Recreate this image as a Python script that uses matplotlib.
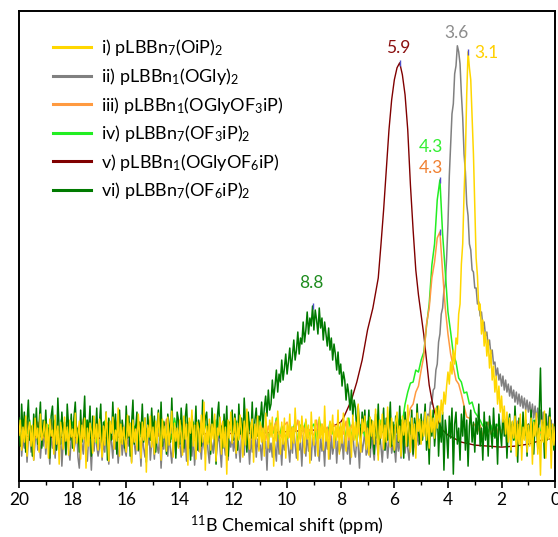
import numpy as np
import matplotlib
matplotlib.use("Agg")
import matplotlib.pyplot as plt
from matplotlib.lines import Line2D

plt.rcParams['font.family'] = ['Lato', 'DejaVu Sans']
plt.rcParams['mathtext.fontset'] = 'custom'
plt.rcParams['mathtext.rm'] = 'Lato'
plt.rcParams['mathtext.it'] = 'Lato:italic'

# intensities (arbitrary units), 20 -> 0 ppm
# i), ii), vi): step 0.05 ppm, one row = 1 ppm
int_i = [
    -5, 10, -20, 3, -12, 14, -26, 0, 8, -16, 5, -30, 12, -8, 2, -22, 16, -10, -3, 9,
    -18, 6, -28, 11, -6, 0, -24, 15, -14, 4, -34, 8, -2, -19, 13, -11, 3, -25, 10, -7,
    1, -21, 17, -13, -4, 9, -29, 5, -9, 12, -38, 2, -16, 7, -1, -23, 14, -12, 6, -20,
    11, -8, -27, 4, -15, 18, -5, -31, 9, -3, 13, -19, 0, -11, 22, -26, 6, -14, 3, -9,
    -22, 15, -6, 7, -33, 10, -12, 1, -20, 16, -4, -28, 8, -10, 12, -42, 5, -7, 14, -17,
    3, -24, 9, -13, 17, -2, -30, 11, -8, 4, -21, 13, -15, 0, 19, -27, 7, -11, 2, -18,
    10, -6, -25, 14, -9, 6, -35, 12, -3, 20, -16, 5, -29, 8, 1, -22, 15, -12, 28, -40,
    4, -14, 11, -20, 6, -9, 16, -31, 2, -5, 13, -24, 9, -17, 3, -44, 10, -8, 18, -13,
    -3, 12, -23, 7, -10, 15, -1, -27, 9, -15, 21, -6, -19, 4, 11, -32, 6, -9, 14, -21,
    8, -12, 2, -26, 17, -4, -18, 10, -7, 13, -36, 5, -11, 19, -2, -24, 8, -14, 12, -28,
    6, -8, 16, -19, 3, -13, 22, -5, -30, 9, -12, 14, -3, -23, 11, -9, 5, -33, 18, -6,
    -15, 10, -2, -26, 13, -8, 6, -20, 24, -11, 1, -29, 9, -4, 15, -18, 4, -10, 20, -24,
    7, -13, 17, -3, -21, 12, -7, 3, -27, 15, -10, 8, -16, 26, -5, -22, 11, -1, 14, -19,
    2, -25, 13, -6, 9, -14, 21, -2, -30, 10, -8, 16, -19, 5, -12, 23, -4, -17, 12, -9,
    -20, 8, 18, -11, 4, -26, 14, -5, 10, -16, 25, -3, -22, 12, -9, 6, -28, 17, -1, 11,
    -14, 9, -6, 18, -10, 14, -18, 20, -2, 12, -8, 22, 2, 24, 8, 30, 16, 38, 26, 44,
    58, 46, 68, 56, 80, 66, 92, 86, 116, 126, 166, 186, 236, 274, 336, 378, 362, 350, 314, 276,
    224, 172, 154, 120, 126, 96, 110, 84, 98, 74, 90, 62, 80, 50, 64, 38, 54, 26, 44, 18,
    34, 8, 24, -4, 18, -12, 12, -20, 9, -8, 14, -26, 6, -14, 16, -30, 3, -10, 20, -22,
    5, -16, 12, -34, 8, -6, 17, -24, 2, -45, 10, -12, 19, -28, 4, -9, 13, -38, 6, -15,
    3]

int_ii = [
    -14, 0, -26, -8, -18, 4, -32, -10, -2, -22, -6, -30, -12, 2, -20, -4, -28, -9, -16, 0,
    -24, -6, -13, -34, -2, -18, -10, -28, 1, -15, -22, -4, -36, -11, -7, -25, -1, -19, -30, -8,
    -5, -20, -12, 3, -27, -38, -9, -14, -24, -2, -17, -31, -6, -13, -40, -8, -21, 0, -16, -26,
    -18, -3, -30, -11, -22, 4, -15, -34, -7, -12, -28, -1, -19, -9, -33, -14, -4, -25, -10, -20,
    -26, -5, -16, -8, -32, 1, -13, -24, -6, -21, -11, -36, -3, -18, -27, -9, -15, -2, -30, -12,
    -10, -29, -2, -16, -23, -6, -38, -11, -19, 3, -14, -26, -5, -20, -33, -8, -12, -24, -1, -17,
    -13, -27, -4, -22, -8, -31, 0, -18, -12, -26, -6, -35, -15, -3, -21, -10, -29, -7, -16, -24,
    -2, -20, -33, -9, -15, -23, 1, -28, -12, -5, -19, -37, -8, -14, -25, -4, -30, -11, -17, -6,
    -21, -8, -28, -3, -16, -32, -6, -13, -25, -1, -18, -10, -34, -7, -22, -14, -2, -27, -9, -19,
    -15, -30, -5, -19, -11, -40, -4, -22, -13, -27, -8, -17, -31, -2, -24, -12, -35, -6, -20, -10,
    -4, -18, -32, -8, -23, 0, -14, -28, -9, -20, -12, -36, -5, -17, -26, -3, -21, -11, -30, -7,
    -12, -26, -2, -17, -31, -7, -21, -13, -36, -4, -19, -10, -29, -6, -24, -15, -1, -33, -11, -22,
    -18, -8, -29, -3, -16, -24, -6, -34, -12, -2, -20, -27, -9, -15, -38, -5, -22, -13, -1, -25,
    -21, -9, -27, -4, -18, -30, -7, -14, -25, -2, -16, -32, -10, -20, -6, -28, -12, -3, -23, -15,
    -16, -32, -5, -21, -10, -28, -1, -14, -23, -7, -18, -30, -4, -12, -26, -8, -19, -2, -15, -9,
    -8, 2, -4, 8, 4, 16, 14, 28, 26, 40, 42, 60, 66, 88, 96, 116, 122, 140, 146, 172,
    206, 254, 286, 316, 326, 356, 364, 384, 378, 366, 336, 312, 276, 258, 226, 214, 186, 180, 160, 158,
    142, 142, 126, 128, 114, 118, 104, 108, 94, 98, 84, 90, 76, 80, 66, 68, 54, 62, 50, 56,
    44, 54, 40, 50, 38, 46, 34, 44, 32, 40, 28, 38, 26, 36, 24, 34, 22, 32, 20, 30,
    18, 28, 14, 26, 12, 24, 8, 22, 6, 20, 2, 18, 0, 16, -4, 14, -6, 10, -10, 6,
    -2]

int_vi = [
    12, -16, 26, -4, 18, -22, 8, 30, -10, 4, -26, 16, -2, 22, -14, 6, 28, -18, 10, -6,
    20, -12, 2, -28, 14, 24, -8, 10, -20, 32, 0, -14, 18, -4, 8, -24, 26, 4, -10, 16,
    -18, 12, 28, -6, 2, -22, 20, -12, 6, 34, -16, 10, -2, 24, -26, 14, 0, -8, 22, -14,
    6, 26, -20, 8, -4, 18, -30, 12, 2, -10, 28, -6, 16, -24, 4, 20, -12, 10, -2, -18,
    24, -8, 14, -26, 6, 30, -14, 2, 18, -20, 8, -4, 26, -12, 12, -32, 16, 0, -10, 22,
    -6, 14, -22, 4, 20, -10, 28, -16, 8, -2, -24, 16, 6, -12, 32, -8, 2, -28, 18, 10,
    -14, 22, 0, -18, 12, 26, -6, 8, -30, 14, 4, -10, 24, -20, 10, 2, -16, 30, -4, 12,
    18, -12, 6, -24, 22, -2, 10, -34, 14, 28, -8, 4, -18, 16, -6, 24, -26, 8, 0, 20,
    -10, 16, 4, -20, 26, -4, 12, -14, 32, 6, -22, 18, 2, -8, 28, -16, 10, 22, -6, 14,
    10, 28, 2, 22, 34, 14, 40, 20, 26, 50, 32, 44, 60, 38, 56, 48, 70, 50, 62, 76,
    56, 68, 82, 60, 74, 90, 70, 80, 98, 76, 92, 86, 108, 88, 100, 118, 96, 112, 104, 124,
    100, 120, 110, 96, 122, 102, 112, 90, 108, 96, 84, 102, 80, 92, 70, 86, 76, 60, 78, 56,
    66, 44, 58, 50, 30, 46, 36, 20, 40, 14, 30, 22, -2, 24, 6, -10, 18, 2, 20, -14,
    -6, 20, -18, 10, 2, -24, 16, -8, 26, -14, 6, -2, 22, -20, 12, -10, 4, 28, -16, 8,
    -22, 14, 0, -12, 24, -6, 10, -28, 18, 2, -16, 8, -4, 20, -24, 12, -8, 26, -2, -14,
    16, -10, 6, 26, -20, 4, -34, 14, -6, 20, -16, 2, 24, -26, 8, -12, 18, -40, 10, -4,
    -28, 14, -8, 22, -44, 6, 18, -14, 2, -30, 16, -6, 24, -20, 10, -36, 4, 20, -12, 8,
    -22, 12, -4, 26, -16, 2, -30, 18, -10, 8, -26, 14, 0, -18, 22, -8, 6, -34, 16, -2,
    -16, 20, -6, 10, -28, 4, 16, -22, 8, -10, 24, -4, -32, 12, 2, -18, 18, -6, 10, -26,
    6, -12, 20, -4, -24, 10, 2, -18, 14, 62, -6, 8, -28, 16, -10, 4, 22, -14, 0, -20,
    6]

# iii), iv): step 0.1 ppm, one row = 1 ppm
int_iii = [
    -6, 4, -2, 9, -10, 3, -5, 8, 0, -8,
    6, -4, 10, -9, 2, -3, 7, -11, 5, 1,
    -7, 9, -1, -6, 11, -8, 3, 0, -4, 8,
    2, -10, 5, 7, -3, -9, 10, -2, 6, -6,
    9, -5, 1, -12, 4, 8, -7, 3, -1, 10,
    -8, 2, -6, 6, -2, 11, -9, 5, -4, 0,
    4, -11, 8, -3, 7, -5, 1, -8, 10, -2,
    -9, 6, -4, 3, -7, 9, -1, 4, -10, 7,
    5, -3, 11, -8, 0, -6, 6, -9, 2, 8,
    -2, 7, -10, 4, -5, 2, 9, -4, -7, 5,
    8, -7, 3, -1, 10, -9, 4, -6, 1, -3,
    -5, 10, -8, 6, -2, 3, -11, 7, 4, -7,
    3, -4, 9, -10, 5, -1, 8, -5, -3, 11,
    -6, 1, -9, 7, 2, -8, 6, -2, 9, -4,
    4, -3, 6, 2, 12, 8, 22, 26, 38, 44,
    60, 74, 106, 122, 152, 168, 192, 198, 158, 122,
    96, 76, 63, 50, 46, 36, 24, 13, 12, 4,
    6, -2, 5, -6, 3, 8, -4, 2, -7, 4,
    -3, 7, -9, 1, 5, -5, 9, -2, -8, 3,
    6, -6, 2, 8, -4, -1, 7, -9, 4, 0,
    -3]

int_iv = [
    3, -8, 6, -4, 10, -12, 2, 7, -6, 4,
    -10, 5, -3, 9, -7, 1, 12, -9, 3, -5,
    8, -2, -11, 6, -4, 10, -8, 2, 5, -13,
    4, -6, 9, -1, -9, 7, -3, 11, -7, 0,
    -5, 8, -12, 3, 6, -8, 10, -4, 1, -10,
    7, -3, 5, -11, 9, -6, 2, -9, 12, -2,
    -7, 4, 10, -5, -1, 8, -10, 3, -6, 9,
    1, -12, 6, -3, 11, -7, 4, -2, -8, 7,
    -4, 9, -9, 5, 2, -11, 8, -5, 3, -1,
    10, -6, 1, -10, 7, -3, 12, -8, 4, -4,
    -9, 6, -2, 8, -12, 5, -1, 9, -7, 3,
    6, -10, 11, -4, 2, -7, 8, -3, -9, 5,
    -2, 7, -8, 12, -5, 1, -11, 6, 3, -6,
    9, -1, -7, 4, -10, 10, -4, 2, 8, -3,
    5, 2, 12, 8, 26, 38, 47, 48, 60, 58,
    70, 78, 104, 126, 165, 186, 230, 250, 196, 158,
    118, 98, 76, 68, 52, 48, 37, 38, 26, 28,
    18, 14, 10, 4, 8, -2, 5, -6, 3, 7,
    -4, 9, -8, 2, 6, -10, 4, -3, 8, -5,
    3, -7, 10, -2, -9, 5, 1, -6, 7, -1,
    2]

# v) is a smooth trace, sampled on its own points
ppm_v = [20.0, 17.0, 14.0, 11.0, 9.0, 8.4, 8.2, 8.0, 7.9, 7.8, 7.6, 7.4, 7.2,
         7.0, 6.8, 6.6, 6.5, 6.4, 6.3, 6.2, 6.1, 6.0, 5.9, 5.8, 5.7, 5.6,
         5.5, 5.4, 5.3, 5.2, 5.1, 5.0, 4.9, 4.8, 4.7, 4.6, 4.5, 4.4, 4.2,
         4.0, 3.5, 3.0, 2.0, 1.5, 1.0, 0.5, 0.0]
int_v = [-6, -8, -4, -3, 0, 2, 5, 8, 12, 18, 30, 48, 70,
         100, 122, 152, 185, 220, 260, 300, 330, 350, 362, 367, 355, 335,
         300, 245, 200, 160, 135, 115, 95, 70, 45, 30, 18, 10, 0,
         -5, -12, -15, -17, -16, -14, -10, -8]

assert len(int_i) == len(int_ii) == len(int_vi) == 401
assert len(int_iii) == len(int_iv) == 201
assert len(ppm_v) == len(int_v)

ppm_fine = np.linspace(20, 0, 401)
ppm_coarse = np.linspace(20, 0, 201)

labels = [r'i) pLBBn$_7$(OiP)$_2$',
          r'ii) pLBBn$_1$(OGly)$_2$',
          r'iii) pLBBn$_1$(OGlyOF$_3$iP)',
          r'iv) pLBBn$_7$(OF$_3$iP)$_2$',
          r'v) pLBBn$_1$(OGlyOF$_6$iP)',
          r'vi) pLBBn$_7$(OF$_6$iP)$_2$']
colors = ['#FFD700', '#808080', '#FF9A40', '#22EE22', '#800000', '#007A00']

# peak annotations: text, ppm, height, colour
peak_text = ['3.6', '3.1', '5.9', '4.3', '4.3', '8.8']
peak_ppm = [3.69, 2.57, 5.86, 4.63, 4.63, 9.10]
peak_h = [397, 377, 382, 283, 262, 147]
peak_col = ['#8C8C8C', '#FFD000', '#8B1010', '#33EE33', '#F08030', '#1E8C1E']

fig = plt.figure(figsize=(5.58, 5.37), dpi=100)
ax = fig.add_axes([0.034, 0.104, 0.961, 0.876])

ax.plot(ppm_fine, int_ii, color=colors[1], lw=1.1, zorder=1)
ax.plot(ppm_v, int_v, color=colors[4], lw=1.0, zorder=1.5)
ax.plot(ppm_coarse, int_iv, color=colors[3], lw=1.1, zorder=2)
ax.plot(ppm_coarse, int_iii, color=colors[2], lw=1.1, zorder=3)
ax.plot(ppm_fine, int_vi, color=colors[5], lw=1.1, zorder=4)
ax.plot(ppm_fine, int_i, color=colors[0], lw=1.1, zorder=5)

# small peak-pick marks
for xs, ys in [(ppm_fine, int_i), (ppm_v, int_v), (ppm_coarse, int_iii),
               (ppm_coarse, int_iv), (ppm_fine, int_vi)]:
    k = int(np.argmax(ys))
    ax.plot(xs[k], ys[k], marker='|', color='#5050C8', ms=4, mew=1, zorder=7)

for t, x, y, c in zip(peak_text, peak_ppm, peak_h, peak_col):
    ax.text(x, y, t, color=c, fontsize=12.5, ha='center', va='center')

handles = [Line2D([], [], color=c, lw=2.2) for c in colors]
ax.legend(handles, labels, loc='upper left', bbox_to_anchor=(0.036, 0.974),
          frameon=False, fontsize=13, handlelength=2.1, handletextpad=0.6,
          labelspacing=0.42, borderpad=0.3)

ax.set_xlim(20, 0)
ax.set_ylim(-51, 419)
ax.set_xticks(range(0, 21, 2))
ax.set_xticks(range(1, 20, 2), minor=True)
ax.set_yticks([])
ax.tick_params(axis='x', direction='out', length=5, width=1.2, labelsize=12.5, pad=3)
ax.tick_params(axis='x', which='minor', direction='out', length=3, width=1)
for s in ax.spines.values():
    s.set_linewidth(1.4)
ax.set_xlabel(r'$^{11}$B Chemical shift (ppm)', fontsize=13, labelpad=4)

fig.savefig('out.png', dpi=100)
